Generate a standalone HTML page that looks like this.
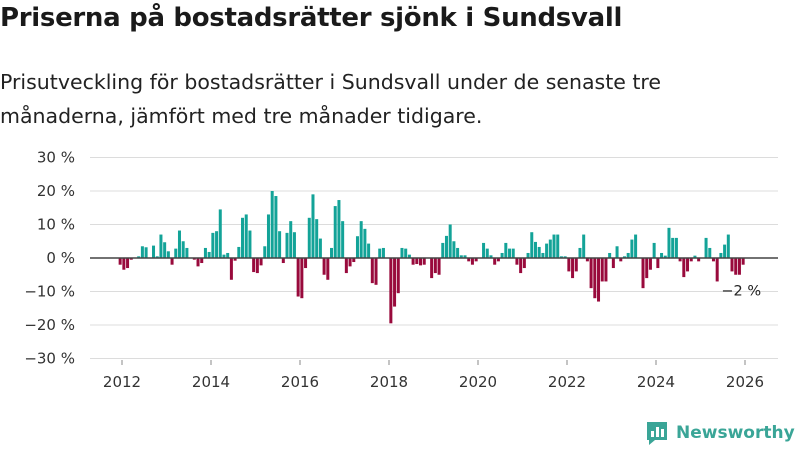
<!DOCTYPE html>
<html><head><meta charset="utf-8">
<style>
body{margin:0;background:#fff;font-family:"Liberation Sans","DejaVu Sans",sans-serif;}
#wrap{position:relative;width:800px;height:450px;overflow:hidden;}
h1{position:absolute;left:0;top:3px;margin:0;font-size:26px;font-weight:bold;color:#1a1a1a;font-family:"DejaVu Sans","Liberation Sans",sans-serif;letter-spacing:-0.3px}
.sub{position:absolute;left:0;top:65px;margin:0;font-size:20.5px;line-height:34px;color:#222;font-family:"DejaVu Sans","Liberation Sans",sans-serif;}
</style></head><body>
<div id="wrap">
<h1>Priserna på bostadsrätter sjönk i Sundsvall</h1>
<p class="sub">Prisutveckling för bostadsrätter i Sundsvall under de senaste tre<br>månaderna, jämfört med tre månader tidigare.</p>
<svg id="chart" width="800" height="450" style="position:absolute;left:0;top:0"></svg>
</div>
<script>
const yTicks=[30,20,10,0,-10,-20,-30];
const xYears=[2012,2014,2016,2018,2020,2022,2024,2026];
const startMonth=-1; // Dec 2011 relative to Jan 2012
const values=[-2,-3.5,-3,-0.5,0,0.5,3.5,3.2,0,3.7,0.5,7,4.7,2,-2,2.8,8.2,5,3,0,-0.5,-2.5,-1.5,3,1.8,7.5,8,14.5,1,1.5,-6.5,-0.8,3.3,12,13,8.2,-4.2,-4.5,-2.2,3.5,13,20,18.5,8,-1.5,7.5,11,7.7,-11.5,-12,-3,12,19,11.6,5.8,-5,-6.5,3,15.5,17.3,11,-4.5,-2.5,-1.2,6.5,11,8.7,4.3,-7.5,-8,2.8,3,0,-19.5,-14.5,-10.5,3,2.8,1,-2,-1.8,-2.2,-2,0,-6,-4.5,-5,4.5,6.6,10,5,3,0.8,0.8,-1,-2,-1,0,4.5,2.8,0.8,-2,-1,1.5,4.5,2.8,2.8,-2,-4.5,-3,1.5,7.7,4.8,3.3,1.5,4.3,5.5,7,7,0.5,0.5,-4,-6,-4,3,7,-1,-9,-12,-13,-7,-7,1.5,-3,3.5,-1,0.5,1.5,5.5,7,0,-9,-6,-3.5,4.5,-3,1.5,0.7,9,6,6,-1,-5.7,-4,-1,0.7,-1,0,6,3,-1,-7,1.5,4,7,-4,-5,-5,-2];
const lastLabel="−2 %";

const NS="http://www.w3.org/2000/svg";
const svg=document.getElementById('chart');
const y0=258, pxPer=3.35;
const yScale=v=>y0-v*pxPer;
const x2012=122, pxYear=44.5;
const xScale=m=>x2012+m*pxYear/12;
function mk(tag,attrs){const e=document.createElementNS(NS,tag);for(const k in attrs)e.setAttribute(k,attrs[k]);svg.appendChild(e);return e;}

yTicks.forEach(t=>{
  if(t!==0){const g=mk('line',{x1:90,x2:778,y1:yScale(t),y2:yScale(t),stroke:'#dcdcdc','stroke-width':1});
  
  }
  const l=mk('text',{x:75,y:yScale(t)+5,'text-anchor':'end','font-size':15,fill:'#333','font-family':'DejaVu Sans, Liberation Sans, sans-serif'});
  l.textContent=(t<0?'−'+(-t):t)+' %';
  
  
});
xYears.forEach(yr=>{
  const x=xScale((yr-2012)*12);
  const tk=mk('line',{x1:x,x2:x,y1:360,y2:365,stroke:'#888','stroke-width':1});
  
  
  const l=mk('text',{x:x,y:387,'text-anchor':'middle','font-size':15,fill:'#333','font-family':'DejaVu Sans, Liberation Sans, sans-serif'});
  l.textContent=yr;
  
  
});
values.forEach((v,i)=>{
  const m=startMonth+i;
  const x=xScale(m)+0.35;
  const w=pxYear/12-0.7;
  const top=Math.min(yScale(v),y0), h=Math.abs(yScale(v)-y0);
  const r=mk('rect',{x:x,y:top,width:w,height:h,fill:v>=0?'#13a398':'#990a3c'});
  
  
});
const zl=mk('line',{x1:90,x2:778,y1:y0,y2:y0,stroke:'#444','stroke-width':1.5});


const lastX=xScale(startMonth+values.length-1);
const ll=mk('text',{x:lastX,y:yScale(values[values.length-1])+31,'text-anchor':'middle','font-size':14.5,fill:'#222','font-family':'DejaVu Sans, Liberation Sans, sans-serif'});
ll.textContent=lastLabel;


</script>
<div style="position:absolute;left:645px;top:420px;display:flex;align-items:center;">
<svg width="24" height="26" viewBox="0 0 24 26"><path d="M2 2h20v18H10l-6 5v-5H2z" fill="#3aa597"/><rect x="6" y="11" width="3" height="6" fill="#fff"/><rect x="11" y="7" width="3" height="10" fill="#fff"/><rect x="16" y="9" width="3" height="8" fill="#fff"/></svg>
<span style="margin-left:7px;font-size:17px;font-weight:bold;color:#3aa597;font-family:'DejaVu Sans','Liberation Sans',sans-serif">Newsworthy</span>
</div>
</body></html>
